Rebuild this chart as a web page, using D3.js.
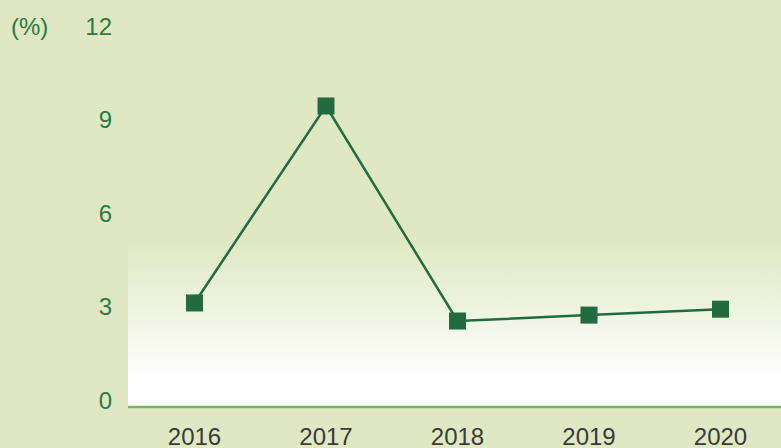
<!DOCTYPE html>
<html><head><meta charset="utf-8">
<script src="https://cdn.jsdelivr.net/npm/d3@7/dist/d3.min.js"></script>
<style>html,body{margin:0;padding:0;background:#dfe8c3;overflow:hidden}svg{display:block}</style>
</head><body>
<script>
const years = ["2016","2017","2018","2019","2020"];
const values = [3.13, 9.45, 2.55, 2.74, 2.93];
const yTicks = [0, 3, 6, 9, 12];
const unitLabel = "(%)";

const W = 781, H = 448;
const svg = d3.select("body").append("svg").attr("width", W).attr("height", H);
const bg = "#dfe8c3";
svg.append("rect").attr("width", W).attr("height", H).attr("fill", bg);

const defs = svg.append("defs");
const grad = defs.append("linearGradient").attr("id","g").attr("x1",0).attr("y1",0).attr("x2",0).attr("y2",1);
grad.append("stop").attr("offset","0%").attr("stop-color",bg);
grad.append("stop").attr("offset","84%").attr("stop-color","#ffffff");
grad.append("stop").attr("offset","100%").attr("stop-color","#ffffff");

const plotLeft = 128;
const x = d3.scalePoint().domain(years).range([194.5, 720.5]);
const y = d3.scaleLinear().domain([0, 12]).range([400.5, 26.5]);
const baseY = 407;

svg.append("rect").attr("x", plotLeft).attr("y", 240).attr("width", W - plotLeft).attr("height", baseY - 240).attr("fill","url(#g)");

svg.append("line").attr("x1", plotLeft).attr("x2", W).attr("y1", baseY).attr("y2", baseY)
  .attr("stroke","#7ab35c").attr("stroke-width",2.5);

const font = "'Liberation Sans', Arial, sans-serif";
const green = "#2a7a48";

svg.append("g").selectAll("text").data(yTicks).join("text")
  .attr("x", 112).attr("y", d => y(d)).attr("dy","0.35em")
  .attr("text-anchor","end").attr("fill", green)
  .style("font-family", font).style("font-size","24px").text(d => d);

svg.append("text").attr("x", 11).attr("y", y(12)).attr("dy","0.35em")
  .attr("fill", green).style("font-family", font).style("font-size","24px").text(unitLabel);

svg.append("g").selectAll("text").data(years).join("text")
  .attr("x", d => x(d)).attr("y", 445)
  .attr("text-anchor","middle").attr("fill","#3a3a3a")
  .style("font-family", font).style("font-size","24px").text(d => d);

const line = d3.line().x((d,i) => x(years[i])).y(d => y(d));
svg.append("path").datum(values).attr("d", line).attr("fill","none")
  .attr("stroke","#216b3f").attr("stroke-width",2.5);

const s = 17;
svg.append("g").selectAll("rect").data(values).join("rect")
  .attr("x", (d,i) => x(years[i]) - s/2).attr("y", d => y(d) - s/2)
  .attr("width", s).attr("height", s).attr("fill","#216b3f");
</script>
</body></html>
